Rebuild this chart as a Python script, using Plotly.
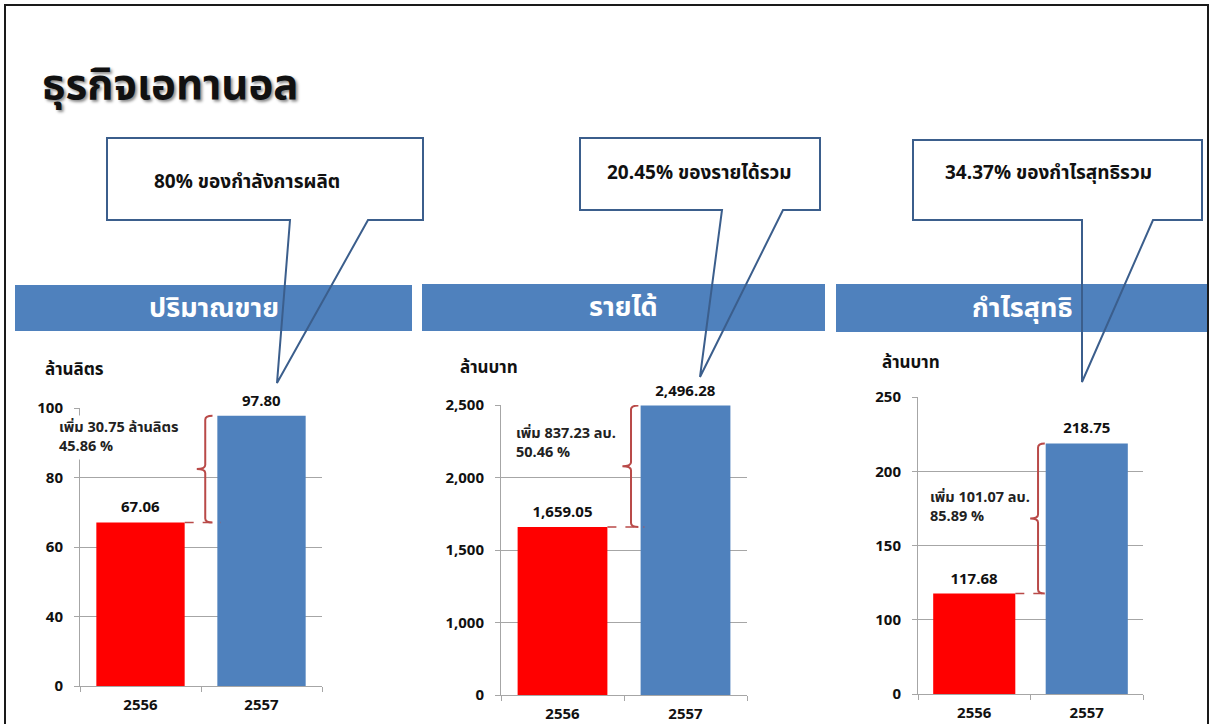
import plotly.graph_objects as go

W, H = 1210, 724

# ---------------- data ----------------
categories = ["2556", "2557"]
volume = [67.06, 97.80]          # ล้านลิตร
revenue = [1659.05, 2496.28]     # ล้านบาท
profit = [117.68, 218.75]        # ล้านบาท

panel_titles = ["ปริมาณขาย", "รายได้", "กำไรสุทธิ"]
unit_labels = ["ล้านลิตร", "ล้านบาท", "ล้านบาท"]
callout_texts = ["80% ของกำลังการผลิต", "20.45% ของรายได้รวม", "34.37% ของกำไรสุทธิรวม"]
increase_texts = [
    "เพิ่ม 30.75 ล้านลิตร<br>45.86 %",
    "เพิ่ม 837.23 ลบ.<br>50.46 %",
    "เพิ่ม 101.07 ลบ.<br>85.89 %",
]
tick_values = [
    [20, 40, 60, 80, 100],
    [500, 1000, 1500, 2000, 2500],
    [50, 100, 150, 200, 250],
]
tick_labels = [
    ["0", "40", "60", "80", "100"],
    ["0", "1,000", "1,500", "2,000", "2,500"],
    ["0", "100", "150", "200", "250"],
]
title_text = "ธุรกิจเอทานอล"

series = [volume, revenue, profit]

# ---------------- layout geometry (pixels) ----------------
def px(x):
    return x / W

def py(y):
    return 1 - y / H

plot_boxes = [  # x0, x1, ytop, ybottom
    (80, 322, 408, 686),
    (501, 747, 405, 695),
    (918, 1143, 397, 694),
]
header_boxes = [(15, 412, 285, 331), (422, 825, 284, 331), (836, 1208, 284, 332)]
unit_pos = [(43, 370), (458, 368), (880, 363)]
increase_pos = [(57, 438), (514, 443), (928, 507)]
callouts = [  # x0, x1, y0, y1, pointer base left, base right, tip x, tip y, text cx, text cy
    (107, 423, 138, 220, 290, 368, 277, 383, 247, 182),
    (580, 820, 138, 210, 722, 783, 700, 377, 699, 173),
    (913, 1202, 140, 220, 1082, 1153, 1082, 382, 1048, 173),
]
brace_x = [0.535, 0.557, 0.567]

FONT = "Tahoma, 'Noto Sans Thai', Lato, 'DejaVu Sans', sans-serif"
BLUE = "#4F81BD"
RED = "#FF0000"
BRACE = "#B94A48"
GRID = "#A6A6A6"
LINE = "#3B5E8C"

fig = go.Figure()
shapes = []
annotations = []

for i in range(3):
    sfx = "" if i == 0 else str(i + 1)
    xa, ya = "x" + sfx, "y" + sfx
    x0, x1, yt, yb = plot_boxes[i]
    vals = series[i]
    fig.add_trace(go.Bar(
        x=categories, y=vals, xaxis=xa, yaxis=ya,
        marker=dict(color=[RED, BLUE], line=dict(width=0)),
        text=[f"{v:,.2f}" for v in vals], textposition="outside",
        textfont=dict(family=FONT, size=15, color="#111111", weight="bold"),
        cliponaxis=False, showlegend=False, hoverinfo="skip",
    ))
    rng = [tick_values[i][0], tick_values[i][-1]]
    fig.layout["xaxis" + sfx] = dict(
        domain=[px(x0), px(x1)], anchor=ya, type="category", automargin=False,
        showline=True, linecolor=GRID, linewidth=1,
        ticks="outside", tickson="boundaries", ticklen=5, tickcolor=GRID,
        showgrid=False, ticklabelstandoff=5,
        tickfont=dict(family=FONT, size=15, color="#111111", weight="bold"),
        fixedrange=True,
    )
    fig.layout["yaxis" + sfx] = dict(
        domain=[py(yb), py(yt)], anchor=xa, range=rng, automargin=False,
        tickvals=tick_values[i], ticktext=tick_labels[i],
        showline=True, linecolor=GRID, linewidth=1,
        ticks="outside", ticklen=5, tickcolor=GRID,
        showgrid=True, gridcolor=GRID, gridwidth=1, zeroline=False,
        ticklabelstandoff=8,
        tickfont=dict(family=FONT, size=15, color="#111111", weight="bold"),
        fixedrange=True,
    )

    # brace showing the increase
    v1, v2 = vals
    span = rng[1] - rng[0]
    unit = span / (yb - yt)  # data units per pixel
    r = 4 * unit
    xv = brace_x[i]
    xr = xv + 0.06
    xt = xv - 0.07
    mid = (v1 + v2) / 2
    path = (f"M {xr},{v2} Q {xv},{v2} {xv},{v2 - r} L {xv},{mid + r} "
            f"Q {xv},{mid} {xt},{mid} Q {xv},{mid} {xv},{mid - r} "
            f"L {xv},{v1 + r} Q {xv},{v1} {xr},{v1}")
    shapes.append(dict(type="path", xref=xa, yref=ya, path=path,
                       line=dict(color=BRACE, width=2), layer="above"))
    # dashed connector from first bar top
    shapes.append(dict(type="line", xref=xa, yref=ya, x0=0.365, x1=0.665,
                       y0=v1, y1=v1, line=dict(color=BRACE, width=1.5, dash="dash"),
                       layer="above"))

    # unit label
    ux, uy = unit_pos[i]
    annotations.append(dict(x=px(ux), y=py(uy), xref="paper", yref="paper",
                            text=f"<b>{unit_labels[i]}</b>", showarrow=False,
                            xanchor="left", yanchor="middle",
                            font=dict(family=FONT, size=17, color="#111111")))
    # increase text
    ix, iy = increase_pos[i]
    annotations.append(dict(x=px(ix), y=py(iy), xref="paper", yref="paper",
                            text=increase_texts[i], showarrow=False, align="left",
                            xanchor="left", yanchor="middle",
                            bgcolor="white" if i == 0 else "rgba(0,0,0,0)",
                            font=dict(family=FONT, size=14.5, color="#222222",
                                      weight="bold")))

    # header bar
    hx0, hx1, hy0, hy1 = header_boxes[i]
    shapes.append(dict(type="rect", xref="paper", yref="paper",
                       x0=px(hx0), x1=px(hx1), y0=py(hy1), y1=py(hy0),
                       fillcolor=BLUE, line=dict(width=0), layer="above"))
    annotations.append(dict(x=px((hx0 + hx1) / 2), y=py((hy0 + hy1) / 2),
                            xref="paper", yref="paper", text=f"<b>{panel_titles[i]}</b>",
                            showarrow=False, xanchor="center", yanchor="middle",
                            font=dict(family=FONT, size=27, color="white")))

# callouts (after headers so pointer lines sit on top)
for i in range(3):
    cx0, cx1, cy0, cy1, bl, br, tx, ty, tcx, tcy = callouts[i]
    shapes.append(dict(type="rect", xref="paper", yref="paper",
                       x0=px(cx0), x1=px(cx1), y0=py(cy1), y1=py(cy0),
                       fillcolor="white", line=dict(width=0), layer="above"))
    p = (f"M {px(bl)},{py(cy1)} L {px(cx0)},{py(cy1)} L {px(cx0)},{py(cy0)} "
         f"L {px(cx1)},{py(cy0)} L {px(cx1)},{py(cy1)} L {px(br)},{py(cy1)} "
         f"L {px(tx)},{py(ty)} Z")
    shapes.append(dict(type="path", xref="paper", yref="paper", path=p,
                       fillcolor="rgba(0,0,0,0)", line=dict(color=LINE, width=2),
                       layer="above"))
    annotations.append(dict(x=px(tcx), y=py(tcy),
                            xref="paper", yref="paper", text=f"<b>{callout_texts[i]}</b>",
                            showarrow=False, xanchor="center", yanchor="middle",
                            font=dict(family=FONT, size=19, color="#111111")))

# slide frame
shapes.append(dict(type="rect", xref="paper", yref="paper",
                   x0=px(5), x1=px(1208), y0=py(740), y1=py(5),
                   line=dict(color="#1A1A1A", width=2), fillcolor="rgba(0,0,0,0)",
                   layer="above"))

# title
annotations.append(dict(x=px(40), y=py(86), xref="paper", yref="paper",
                        text=f"<b>{title_text}</b>", showarrow=False,
                        xanchor="left", yanchor="middle",
                        font=dict(family=FONT, size=42, color="#111111",
                                  shadow="2px 2px 3px #8a8a8a")))

fig.update_layout(
    width=W, height=H, margin=dict(l=0, r=0, t=0, b=0, autoexpand=False),
    paper_bgcolor="white", plot_bgcolor="white",
    bargap=0.27, shapes=shapes, annotations=annotations,
    font=dict(family=FONT),
)

fig.write_html(
    "out.html",
    config={"displayModeBar": False},
    post_script="document.body.style.margin='0';document.body.style.overflow='hidden';",
)
